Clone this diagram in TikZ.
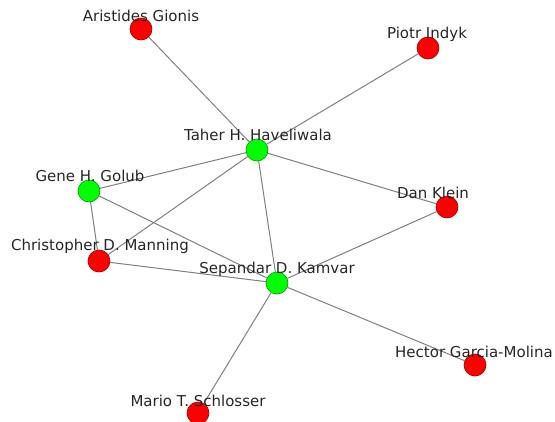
\documentclass[tikz,border=0pt]{standalone}
\usepackage{fontspec}
\setmainfont{DejaVu Sans}
\begin{document}
\begin{tikzpicture}[x=1pt,y=-1pt,
  vtx/.style={circle,line width=0.6pt,minimum size=22pt,inner sep=0pt},
  redv/.style={vtx,fill=red,draw=black!40!red},
  greenv/.style={vtx,fill=green,draw=black!40!green},
  lbl/.style={font=\fontsize{15}{15}\selectfont,text=black!85,inner sep=0pt},
  edge/.style={draw=black!50,line width=1pt}]
\useasboundingbox (0,0) rectangle (555,421);
% vertices
\node[redv] (ag) at (141,29) {};
\node[redv] (pi) at (428,48) {};
\node[greenv] (th) at (257,150) {};
\node[greenv] (gg) at (89,191) {};
\node[redv] (dk) at (447,207) {};
\node[redv] (cm) at (99,261) {};
\node[greenv] (sk) at (277,283) {};
\node[redv] (hg) at (475,365) {};
\node[redv] (ms) at (198,413) {};
% edges
\path[edge] (ag) -- (th);
\path[edge] (pi) -- (th);
\path[edge] (th) -- (gg);
\path[edge] (th) -- (dk);
\path[edge] (th) -- (cm);
\path[edge] (th) -- (sk);
\path[edge] (gg) -- (cm);
\path[edge] (gg) -- (sk);
\path[edge] (cm) -- (sk);
\path[edge] (dk) -- (sk);
\path[edge] (sk) -- (hg);
\path[edge] (sk) -- (ms);
% labels
\node[lbl] (lag) at (141,16) {Aristides Gionis};
\node[lbl] (lpi) at (427,34) {Piotr Indyk};
\node[lbl] (lth) at (258,135) {Taher H. Haveliwala};
\node[lbl] (lgg) at (90,176) {Gene H. Golub};
\node[lbl] (ldk) at (433,193) {Dan Klein};
\node[lbl] (lcm) at (100,246) {Christopher D. Manning};
\node[lbl] (lsk) at (277,269) {Sepandar D. Kamvar};
\node[lbl] (lhg) at (474,352) {Hector Garcia-Molina};
\node[lbl] (lms) at (198,401) {Mario T. Schlosser};
\end{tikzpicture}
\end{document}
